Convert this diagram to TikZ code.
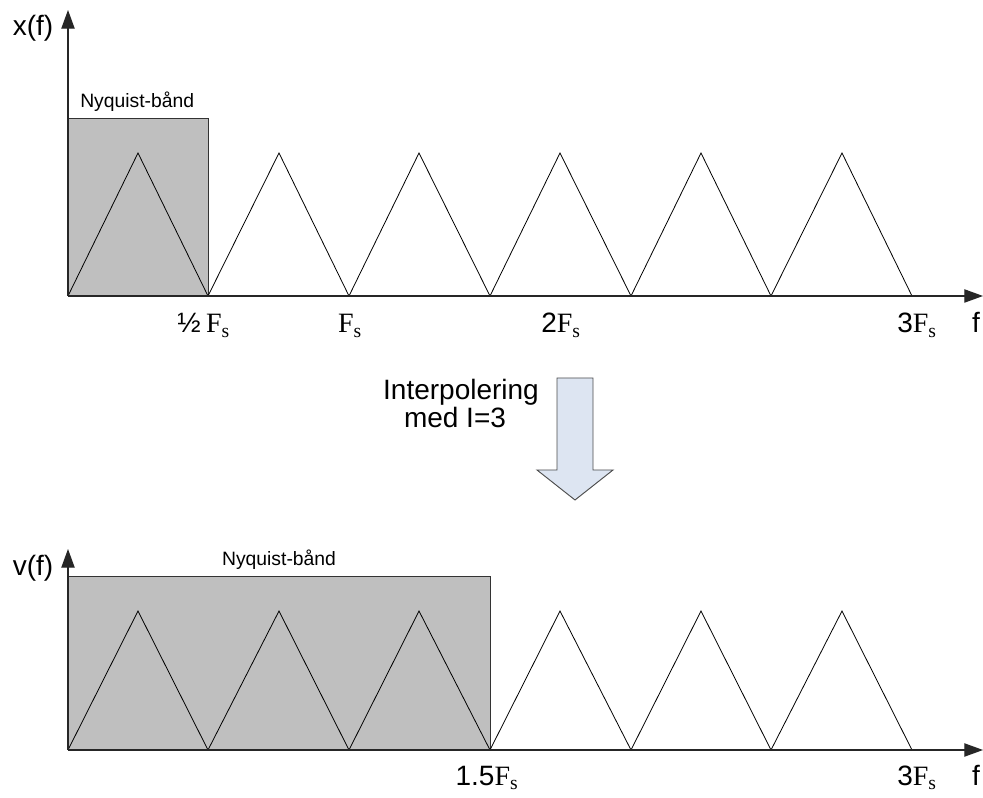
\documentclass[tikz,border=0pt]{standalone}
\usepackage{fontspec}
\setmainfont{Liberation Sans}
\newfontfamily\lserif{Liberation Serif}
\usetikzlibrary{arrows.meta}
\newcommand\Fsub{{\lserif F\textsubscript{s}}}
\begin{document}
\begin{tikzpicture}[x=0.75pt,y=-0.75pt,
  axis/.style={draw=black!85,line width=0.8pt,-{Triangle[length=14pt,width=10pt]}},
  tri/.style={draw=black,line width=0.6pt},
  band/.style={draw=black!80,fill=black!25,line width=0.7pt},
  lbl/.style={font=\fontsize{21}{25}\selectfont,inner sep=0pt},
  nyq/.style={font=\fontsize{14.5}{17}\selectfont,inner sep=0pt},
  blockarrow/.style={draw=black!70,fill={rgb,255:red,221;green,229;blue,242},line width=0.7pt}]
\useasboundingbox (0,0) rectangle (983,798);
% ---------- top plot ----------
\coordinate (o1) at (68,296);
\coordinate (y1) at (68,10);
\coordinate (x1) at (983,296);
\draw[band] (68,118) rectangle (208,296);
\foreach \a/\p/\b in {68/138/208,208/279/349,349/419/490,490/560/631,631/701/771,771/842/912}
  \draw[tri] (\a,296) -- (\p,153) -- (\b,296);
\draw[axis] (o1) -- (y1);
\draw[axis] (o1) -- (x1);
\node[lbl,anchor=base] (xf) at (33,36) {x(f)};
\node[nyq,anchor=base west] (nq1) at (80,108) {Nyquist-bånd};
\node[lbl,anchor=base] (h1) at (218,333) {\makebox[0pt][r]{½\hspace{4pt}}\Fsub};
\node[lbl,anchor=base] (fs1) at (350,333) {\Fsub};
\node[lbl,anchor=base] (fs2) at (561,333) {2\Fsub};
\node[lbl,anchor=base] (fs3) at (917,333) {3\Fsub};
\node[lbl,anchor=base] (f1) at (976,333) {f};
% ---------- block arrow ----------
\draw[blockarrow] (557,378) -- (593,378) -- (593,470) -- (613,470) -- (575,500) -- (537,470) -- (557,470) -- cycle;
\node[lbl,anchor=base] (ip1) at (461,400) {Interpolering};
\node[lbl,anchor=base] (ip2) at (455,428) {med I=3};
% ---------- bottom plot ----------
\coordinate (o2) at (68,750);
\coordinate (y2) at (68,549);
\coordinate (x2) at (983,750);
\draw[band] (68,576) rectangle (490,750);
\foreach \a/\p/\b in {68/138/208,208/279/349,349/419/490,490/560/631,631/701/771,771/842/912}
  \draw[tri] (\a,750) -- (\p,611) -- (\b,750);
\draw[axis] (o2) -- (y2);
\draw[axis] (o2) -- (x2);
\node[lbl,anchor=base] (vf) at (33,576) {v(f)};
\node[nyq,anchor=base] (nq2) at (279,566) {Nyquist-bånd};
\node[lbl,anchor=base] (fs4) at (487,785) {1.5\Fsub};
\node[lbl,anchor=base] (fs5) at (917,785) {3\Fsub};
\node[lbl,anchor=base] (f2) at (976,785) {f};
\end{tikzpicture}
\end{document}
